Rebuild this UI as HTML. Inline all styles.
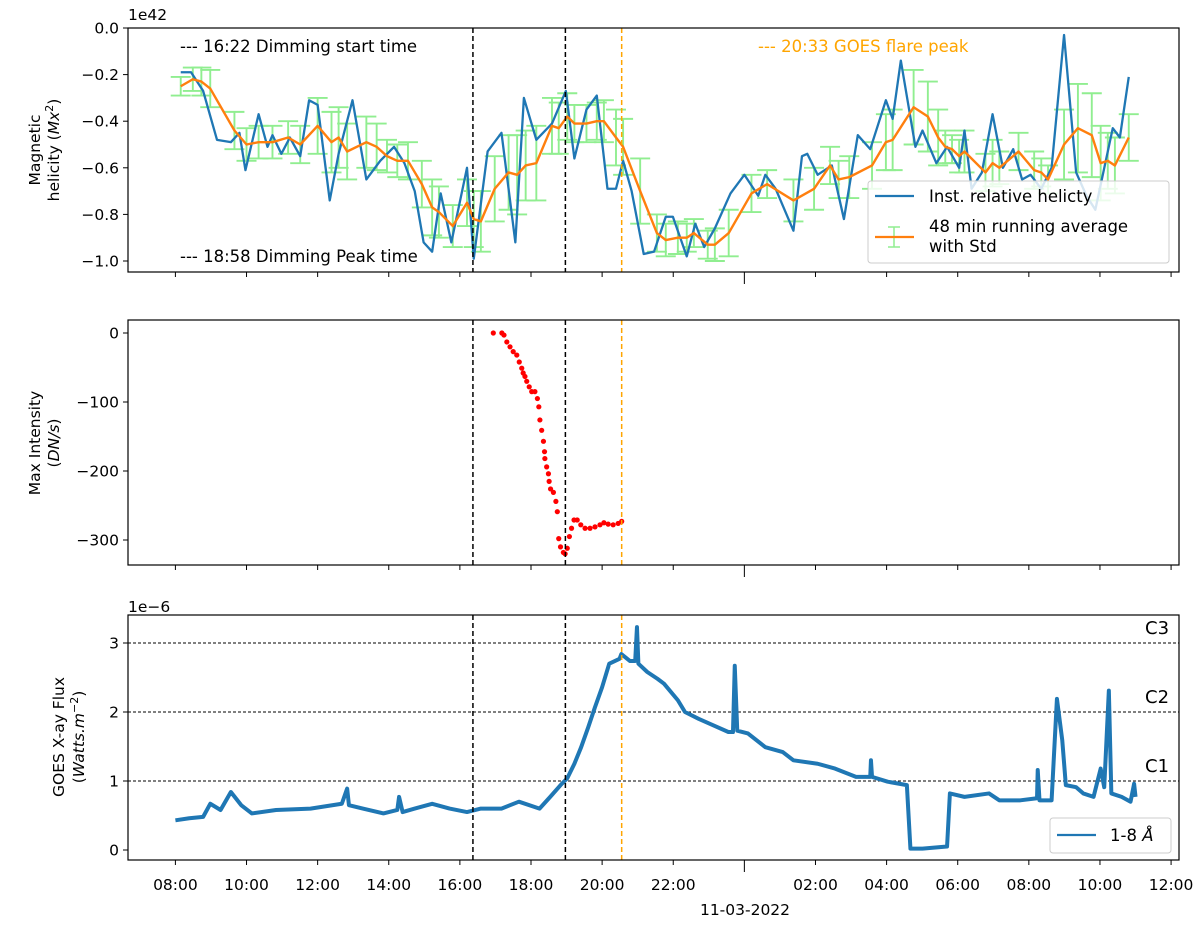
<!DOCTYPE html>
<html><head><meta charset="utf-8"><style>
body{margin:0;background:#fff;}
svg text{font-family:"DejaVu Sans","Liberation Sans",sans-serif;fill:#000;}
</style></head><body>
<svg id="fig" width="1200" height="927" viewBox="0 0 1200 927" xmlns="http://www.w3.org/2000/svg">
<g id="root"></g>
</svg>
<script>
// ---------- data ----------
const xTickHours = [0,2,4,6,8,10,12,14,16,18,20,22,24,26,28];
const xTickLabels = ["08:00","10:00","12:00","14:00","16:00","18:00","20:00","22:00","","02:00","04:00","06:00","08:00","10:00","12:00"];
const eventHours = [8.367, 10.967, 12.55];
const eventColors = ["#000","#000","#ffa500"];

const helTicks = [0,-0.2,-0.4,-0.6,-0.8,-1.0];
const helTickLabels = ["0.0","\u22120.2","\u22120.4","\u22120.6","\u22120.8","\u22121.0"];
const blueH = [0.15,0.44,0.78,1.17,1.56,1.80,1.97,2.34,2.59,2.73,2.98,3.22,3.51,3.76,4.0,4.34,4.59,4.98,5.37,5.76,6.15,6.44,6.73,6.98,7.22,7.46,7.76,8.20,8.39,8.78,9.17,9.56,9.80,10.15,10.59,10.98,11.22,11.56,11.85,12.15,12.39,12.59,12.83,13.17,13.46,13.79,13.99,14.38,14.62,14.87,15.17,15.61,16.0,16.39,16.59,16.88,17.38,17.62,17.77,18.06,18.46,18.80,19.19,19.54,19.98,20.17,20.40,20.81,21.01,21.40,21.70,22.04,22.19,22.39,22.68,22.98,23.27,23.56,23.81,24.05,24.35,24.64,24.99,25.33,25.62,25.87,26.36,26.56,26.81];
const blueV = [-0.19,-0.19,-0.27,-0.48,-0.49,-0.45,-0.61,-0.37,-0.51,-0.46,-0.54,-0.47,-0.55,-0.31,-0.33,-0.74,-0.54,-0.31,-0.65,-0.57,-0.51,-0.58,-0.70,-0.92,-0.96,-0.71,-0.92,-0.60,-0.99,-0.53,-0.45,-0.92,-0.30,-0.48,-0.41,-0.27,-0.56,-0.35,-0.29,-0.69,-0.69,-0.57,-0.70,-0.97,-0.96,-0.81,-0.81,-0.98,-0.84,-0.94,-0.86,-0.71,-0.63,-0.72,-0.63,-0.69,-0.87,-0.55,-0.54,-0.63,-0.59,-0.82,-0.46,-0.52,-0.31,-0.39,-0.14,-0.51,-0.44,-0.58,-0.51,-0.60,-0.44,-0.69,-0.62,-0.37,-0.60,-0.52,-0.65,-0.63,-0.69,-0.60,-0.03,-0.62,-0.72,-0.78,-0.43,-0.47,-0.21];
const avgH = [0.15,0.49,0.73,0.98,1.66,2.0,2.34,2.73,3.17,3.51,4.0,4.39,4.59,4.83,5.37,5.66,5.95,6.24,6.54,6.93,7.22,7.41,7.8,8.2,8.39,8.59,8.98,9.37,9.61,9.85,10.15,10.59,10.78,11.02,11.22,11.56,11.85,12.05,12.39,12.59,13.07,13.54,13.79,14.13,14.38,14.58,14.97,15.17,15.56,16.2,16.64,17.38,17.96,18.41,18.65,18.95,19.59,19.98,20.17,20.76,21.16,21.45,21.65,21.84,22.04,22.19,22.78,22.98,23.17,23.71,24.15,24.35,24.54,24.99,25.38,25.77,26.02,26.22,26.42,26.81];
const avgV = [-0.25,-0.22,-0.23,-0.26,-0.44,-0.50,-0.49,-0.49,-0.47,-0.50,-0.42,-0.49,-0.47,-0.53,-0.49,-0.51,-0.55,-0.57,-0.57,-0.67,-0.77,-0.79,-0.85,-0.75,-0.82,-0.83,-0.69,-0.62,-0.63,-0.59,-0.58,-0.42,-0.43,-0.38,-0.41,-0.41,-0.40,-0.40,-0.47,-0.51,-0.70,-0.88,-0.91,-0.90,-0.90,-0.88,-0.93,-0.93,-0.88,-0.71,-0.67,-0.74,-0.69,-0.59,-0.65,-0.64,-0.59,-0.49,-0.48,-0.34,-0.38,-0.47,-0.51,-0.52,-0.55,-0.53,-0.62,-0.58,-0.60,-0.53,-0.61,-0.62,-0.65,-0.50,-0.43,-0.46,-0.58,-0.57,-0.59,-0.47];
const avgStd = [0.04,0.05,0.06,0.08,0.08,0.07,0.07,0.07,0.07,0.08,0.12,0.13,0.13,0.12,0.11,0.10,0.07,0.07,0.08,0.10,0.12,0.11,0.09,0.10,0.12,0.13,0.14,0.16,0.17,0.15,0.16,0.12,0.11,0.10,0.08,0.08,0.08,0.09,0.12,0.12,0.14,0.08,0.07,0.07,0.06,0.06,0.06,0.07,0.10,0.08,0.06,0.09,0.09,0.08,0.08,0.09,0.10,0.12,0.13,0.16,0.15,0.12,0.07,0.06,0.07,0.09,0.08,0.10,0.07,0.08,0.08,0.06,0.06,0.15,0.19,0.18,0.16,0.12,0.12,0.10];

const intTicks = [0,-100,-200,-300];
const intTickLabels = ["0","\u2212100","\u2212200","\u2212300"];
const intH = [8.94,9.18,9.24,9.32,9.41,9.50,9.60,9.67,9.74,9.78,9.83,9.88,9.95,10.02,10.11,10.18,10.22,10.25,10.30,10.35,10.38,10.39,10.44,10.49,10.51,10.55,10.63,10.70,10.74,10.78,10.83,10.91,10.96,11.02,11.08,11.14,11.21,11.30,11.40,11.52,11.66,11.80,11.94,12.05,12.17,12.31,12.45,12.55];
const intV = [0,0,-3,-13,-20,-27,-32,-42,-51,-58,-63,-70,-78,-85,-85,-95,-107,-126,-141,-157,-172,-182,-194,-204,-215,-226,-231,-244,-259,-298,-310,-318,-320,-312,-295,-283,-271,-271,-278,-283,-283,-281,-278,-275,-277,-278,-276,-273];

const goesTicks = [0,1,2,3];
const goesTickLabels = ["0","1","2","3"];
const classLevels = [1,2,3];
const classLabels = ["C1","C2","C3"];
const goesH = [0.0,0.39,0.78,0.98,1.27,1.56,1.85,2.15,2.83,3.8,4.68,4.83,4.88,5.27,5.85,6.24,6.29,6.39,6.73,7.22,7.71,8.2,8.59,9.17,9.66,10.24,10.54,10.83,11.02,11.22,11.41,11.61,11.80,12.0,12.2,12.49,12.54,12.78,12.93,12.98,13.02,13.27,13.56,13.74,14.13,14.33,14.72,15.11,15.55,15.68,15.73,15.80,16.1,16.59,17.08,17.38,18.06,18.55,19.14,19.54,19.56,19.59,20.03,20.57,20.67,21.01,21.70,21.78,22.19,22.88,23.17,23.76,24.23,24.25,24.30,24.64,24.79,24.94,25.04,25.33,25.53,25.82,26.02,26.12,26.25,26.32,26.61,26.86,26.96,27.0];
const goesV = [0.43,0.46,0.48,0.67,0.58,0.84,0.65,0.53,0.58,0.60,0.67,0.89,0.65,0.60,0.53,0.58,0.77,0.55,0.60,0.67,0.60,0.55,0.60,0.60,0.70,0.60,0.77,0.94,1.04,1.25,1.49,1.78,2.07,2.36,2.70,2.77,2.84,2.74,2.74,3.23,2.70,2.58,2.48,2.41,2.17,2.0,1.90,1.81,1.71,1.71,2.67,1.73,1.69,1.49,1.42,1.30,1.25,1.18,1.06,1.06,1.30,1.06,0.99,0.94,0.02,0.02,0.05,0.82,0.77,0.82,0.72,0.72,0.75,1.16,0.72,0.72,2.19,1.59,0.94,0.91,0.82,0.77,1.18,0.91,2.31,0.82,0.77,0.70,0.96,0.77];

// ---------- geometry ----------
const L=128, R=1179;
const P1={top:28,bot:272}, P2={top:320,bot:565}, P3={top:615,bot:860};
const x = h => 175.4 + h*35.56;
const y1 = v => 28 - v*233;
const y2 = v => 333 - v*0.69;
const y3 = v => 850 - v*69;

const NS="http://www.w3.org/2000/svg";
const root=document.getElementById('root');
function mk(tag, attrs, parent, txt){
  const e=document.createElementNS(NS,tag);
  for(const k in attrs) e.setAttribute(k,attrs[k]);
  if(txt!==undefined) e.textContent=txt;
  (parent||root).appendChild(e); return e;
}
function grp(name){ const g=mk('g',{});   return g; }

function panelFrame(P, name, yTicks, yLabels, yf, showXLabels){
  const g=grp(name);
  xTickHours.forEach((h,i)=>{
    const big = (h===16);
    const t=mk('line',{x1:x(h),x2:x(h),y1:P.bot,y2:P.bot+(big?12:5),stroke:'#000','stroke-width':1},g);
    
    
    if(showXLabels && xTickLabels[i]){
      const tl=mk('text',{x:x(h),y:P.bot+30,'font-size':15.5,'text-anchor':'middle'},g,xTickLabels[i]);
      
      
    }
  });
  yTicks.forEach((v,i)=>{
    const t=mk('line',{x1:L-5,x2:L,y1:yf(v),y2:yf(v),stroke:'#000','stroke-width':1},g);
    
    
    const tl=mk('text',{x:L-9,y:yf(v)+5.5,'font-size':15.5,'text-anchor':'end'},g,yLabels[i]);
    
    
  });
  return g;
}
function border(P,name){
  const b=mk('rect',{x:L,y:P.top,width:R-L,height:P.bot-P.top,fill:'none',stroke:'#000','stroke-width':1.2});
  
  
}
function eventLines(P){
  eventHours.forEach((h,i)=>{
    const l=mk('line',{x1:x(h),x2:x(h),y1:P.top,y2:P.bot,stroke:eventColors[i],'stroke-width':1.5,'stroke-dasharray':'5,3'});
    
    
  });
}
function clip(id,P){
  const c=mk('clipPath',{id:id}); mk('rect',{x:L,y:P.top,width:R-L,height:P.bot-P.top},c);
}
clip('c1',P1); clip('c2',P2); clip('c3',P3);

// ---------- panel 1 ----------
panelFrame(P1,'helicity-axes',helTicks,helTickLabels,y1,false);
const gEb=grp('errorbars'); gEb.setAttribute('clip-path','url(#c1)');
avgH.forEach((h,i)=>{
  const cx=x(h), a=y1(avgV[i]+avgStd[i]), b=y1(avgV[i]-avgStd[i]);
  const e=mk('path',{d:`M${cx},${a}V${b}M${cx-10},${a}H${cx+10}M${cx-10},${b}H${cx+10}`,stroke:'#90ee90','stroke-width':1.9,fill:'none'},gEb);
  
  
});
const bl=mk('polyline',{points:blueH.map((h,i)=>x(h)+','+y1(blueV[i])).join(' '),fill:'none',stroke:'#1f77b4','stroke-width':2.3,'stroke-linejoin':'round','clip-path':'url(#c1)'});


const ol=mk('polyline',{points:avgH.map((h,i)=>x(h)+','+y1(avgV[i])).join(' '),fill:'none',stroke:'#ff7f0e','stroke-width':2.4,'stroke-linejoin':'round','clip-path':'url(#c1)'});


eventLines(P1);
border(P1,'helicity-plot-frame');
let t;
t=mk('text',{x:L,y:20,'font-size':15.5},root,'1e42');  
t=mk('text',{x:180,y:52,'font-size':16.5},root,'--- 16:22 Dimming start time');  
t=mk('text',{x:180,y:262,'font-size':16.5},root,'--- 18:58 Dimming Peak time');  
t=mk('text',{x:758,y:52,'font-size':16.5,style:'fill:#ffa500'},root,'--- 20:33 GOES flare peak');  
const lg1=grp('helicity-legend');
mk('rect',{x:868,y:181,width:301,height:82,rx:3,fill:'rgba(255,255,255,0.82)',stroke:'#ccc'},lg1);
mk('line',{x1:875,x2:914,y1:196,y2:196,stroke:'#1f77b4','stroke-width':2.2},lg1);
mk('path',{d:'M894,227V247M888,227H900M888,247H900',stroke:'#90ee90','stroke-width':1.5,fill:'none'},lg1);
mk('line',{x1:875,x2:914,y1:237,y2:237,stroke:'#ff7f0e','stroke-width':2.2},lg1);
mk('text',{x:929,y:202,'font-size':16.5},lg1,'Inst. relative helicty');
mk('text',{x:929,y:232,'font-size':16.5},lg1,'48 min running average');
mk('text',{x:929,y:252,'font-size':16.5},lg1,'with Std');
t=mk('text',{transform:'translate(40,150) rotate(-90)','font-size':15.5,'text-anchor':'middle'},root,'Magnetic');  
t=mk('text',{transform:'translate(59,150) rotate(-90)','font-size':15.5,'text-anchor':'middle'},root);  
t.innerHTML='helicity (<tspan font-style="italic">Mx</tspan><tspan dy="-6" font-size="11">2</tspan><tspan dy="6">)</tspan>';

// ---------- panel 2 ----------
panelFrame(P2,'intensity-axes',intTicks,intTickLabels,y2,false);
const gDots=grp('intensity-points'); gDots.setAttribute('clip-path','url(#c2)');
intH.forEach((h,i)=>{
  const d=mk('circle',{cx:x(h),cy:y2(intV[i]),r:2.6,fill:'#ff0000'},gDots);
  
  
});
eventLines(P2);
border(P2,'intensity-plot-frame');
t=mk('text',{transform:'translate(40,443) rotate(-90)','font-size':15.5,'text-anchor':'middle'},root,'Max Intensity');  
t=mk('text',{transform:'translate(59,443) rotate(-90)','font-size':15.5,'text-anchor':'middle'},root);  
t.innerHTML='(<tspan font-style="italic">DN/s</tspan>)';

// ---------- panel 3 ----------
panelFrame(P3,'goes-axes',goesTicks,goesTickLabels,y3,true);
classLevels.forEach((v,i)=>{
  const l=mk('line',{x1:L,x2:R,y1:y3(v),y2:y3(v),stroke:'#000','stroke-width':0.9,'stroke-dasharray':'3,2'});
  
  
  const tt=mk('text',{x:1145,y:y3(v)-9,'font-size':18},root,classLabels[i]);
  
  
});
const gl=mk('polyline',{points:goesH.map((h,i)=>x(h)+','+y3(goesV[i])).join(' '),fill:'none',stroke:'#1f77b4','stroke-width':4,'stroke-linejoin':'round','clip-path':'url(#c3)'});


eventLines(P3);
border(P3,'goes-plot-frame');
t=mk('text',{x:L,y:612,'font-size':15.5},root,'1e\u22126');  
const lg3=grp('goes-legend');
mk('rect',{x:1050,y:818,width:121,height:35,rx:3,fill:'rgba(255,255,255,0.82)',stroke:'#ccc'},lg3);
mk('line',{x1:1057,x2:1096,y1:835,y2:835,stroke:'#1f77b4','stroke-width':2.2},lg3);
const lt=mk('text',{x:1110,y:841,'font-size':16.5},lg3); lt.innerHTML='1-8 <tspan font-style="italic">Å</tspan>';
t=mk('text',{transform:'translate(64,737) rotate(-90)','font-size':15.5,'text-anchor':'middle'},root,'GOES X-ay Flux');  
t=mk('text',{transform:'translate(84,737) rotate(-90)','font-size':15.5,'text-anchor':'middle'},root);  
t.innerHTML='(<tspan font-style="italic">Watts.m</tspan><tspan dy="-6" font-size="11">\u22122</tspan><tspan dy="6">)</tspan>';
t=mk('text',{x:745,y:915,'font-size':15.5,'text-anchor':'middle'},root,'11-03-2022');  
</script>
</body></html>
